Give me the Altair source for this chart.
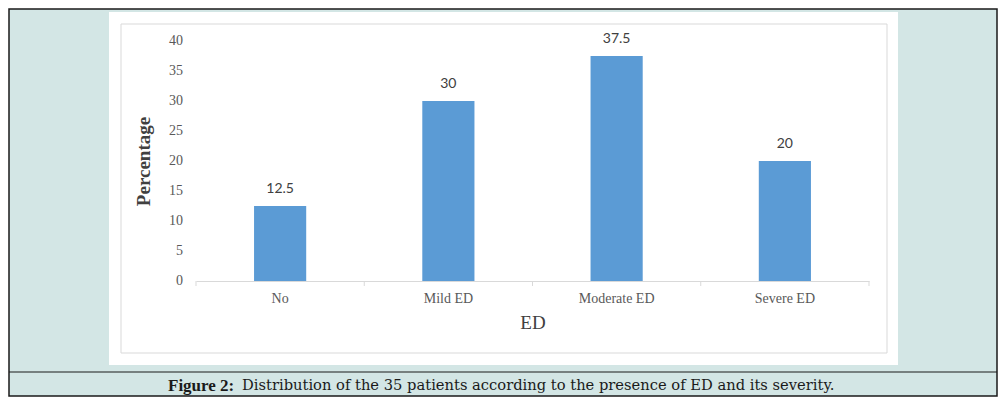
import altair as alt
import pandas as pd

categories = ["No", "Mild ED", "Moderate ED", "Severe ED"]
percentages = [12.5, 30, 37.5, 20]
y_ticks = [0, 5, 10, 15, 20, 25, 30, 35, 40]
caption_bold = "Figure 2:"
caption_rest = "Distribution of the 35 patients according to the presence of ED and its severity."

df = pd.DataFrame({"cat": categories, "pct": percentages})
tick_df = pd.DataFrame({"pct": y_ticks})
one = pd.DataFrame({"a": [0]})

W, H = 673, 240
PAD = {"left": 188, "top": 33, "right": 129, "bottom": 116}

x_enc = alt.X("cat:N", sort=categories,
              scale=alt.Scale(paddingInner=0.69, paddingOuter=0.345),
              axis=alt.Axis(title="ED", labelAngle=0, ticks=False, domainColor="#D9D9D9",
                            labelFont="Liberation Serif", labelFontSize=14, labelColor="#595959",
                            labelPadding=10, titleFont="Liberation Serif", titleFontSize=19,
                            titleFontWeight="normal", titleColor="#404040", titleY=41,
                            titleBaseline="middle", zindex=1))
y_enc = alt.Y("pct:Q", scale=alt.Scale(domain=[0, 40]),
              axis=alt.Axis(title="Percentage", grid=False, domain=False, ticks=False, labels=False,
                            titleFont="Liberation Serif", titleFontSize=19, titleFontWeight="bold",
                            titleColor="#404040", titleX=-53, titleY=120, titleAngle=-90,
                            titleBaseline="middle", zindex=1))

base1 = alt.Chart(one)

outer = base1.mark_rect(fill="#D3E6E5", stroke="#1a1a1a", strokeWidth=1.5).encode(
    x=alt.value(-187), x2=alt.value(801), y=alt.value(-32), y2=alt.value(355))
white = base1.mark_rect(fill="white").encode(
    x=alt.value(-87), x2=alt.value(702), y=alt.value(-29), y2=alt.value(324))
frame = base1.mark_rect(fill="white", stroke="#D9D9D9", strokeWidth=1).encode(
    x=alt.value(-75), x2=alt.value(691), y=alt.value(-17), y2=alt.value(312))
capline = base1.mark_rule(stroke="#1a1a1a", strokeWidth=1.2).encode(
    x=alt.value(-187), x2=alt.value(801), y=alt.value(331))
cap1 = base1.mark_text(text=caption_bold, font="Liberation Serif", fontSize=17, fontWeight="bold",
                       align="left", baseline="middle", color="#1a1a1a").encode(
    x=alt.value(-28), y=alt.value(345))
cap2 = base1.mark_text(text=caption_rest, font="DejaVu Serif", fontSize=14.7,
                       align="left", baseline="middle", color="#1a1a1a").encode(
    x=alt.value(46), y=alt.value(345))

bars = alt.Chart(df).mark_bar(color="#5B9BD5").encode(x=x_enc, y=y_enc)
labels = alt.Chart(df).mark_text(dy=-10, baseline="bottom", font="Lato", fontSize=14,
                                 color="#404040").encode(
    x=x_enc, y=y_enc, text=alt.Text("pct:Q"))
ylabels = alt.Chart(tick_df).mark_text(align="right", baseline="middle", font="Liberation Serif",
                                       fontSize=14, color="#595959").encode(
    x=alt.value(-13), y=y_enc, text=alt.Text("pct:Q"))
ticks = alt.Chart(df).mark_rule(color="#D9D9D9", xOffset=-84.125).encode(
    x=x_enc, y=alt.value(240), y2=alt.value(245))
tick_end = base1.mark_rule(color="#D9D9D9").encode(
    x=alt.value(673), y=alt.value(240), y2=alt.value(245))

chart = alt.layer(outer, white, frame, capline, cap1, cap2, bars, ticks, tick_end, labels,
                  ylabels).properties(
    width=W, height=H, padding=PAD, autosize=alt.AutoSizeParams(type="none")
).configure(background="white").configure_view(stroke=None)

chart.save("out.html", embed_options={"renderer": "svg", "actions": False})
